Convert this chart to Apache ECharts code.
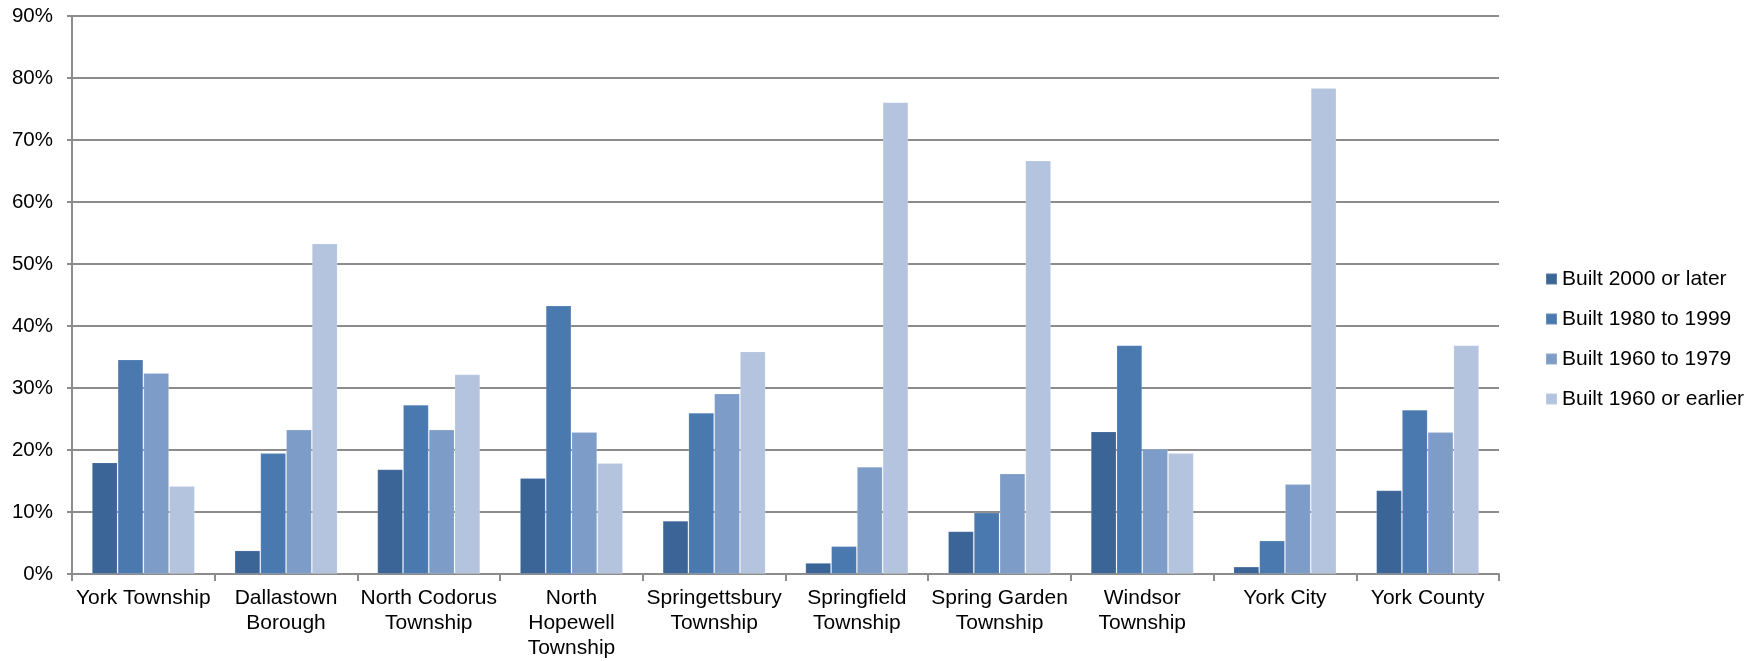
<!DOCTYPE html>
<html>
<head>
<meta charset="utf-8">
<title>Housing Units by Year Built</title>
<script src="https://cdn.jsdelivr.net/npm/echarts@6/dist/echarts.min.js"></script>
<style>
  html, body { margin: 0; padding: 0; background: #ffffff; }
  #chart { width: 1760px; height: 661px; }
</style>
</head>
<body>
<div id="chart"></div>
<script>
// Municipalities (line breaks as the axis labels wrap)
const categories = [
  'York Township',
  'Dallastown\nBorough',
  'North Codorus\nTownship',
  'North\nHopewell\nTownship',
  'Springettsbury\nTownship',
  'Springfield\nTownship',
  'Spring Garden\nTownship',
  'Windsor\nTownship',
  'York City',
  'York County'
];

const seriesNames = [
  'Built 2000 or later',
  'Built 1980 to 1999',
  'Built 1960 to 1979',
  'Built 1960 or earlier'
];

// Share of housing units (%) by year built
const built2000OrLater   = [18.0, 3.8, 16.9, 15.5, 8.6, 1.8, 6.9, 23.0, 1.2, 13.5];
const built1980To1999    = [34.6, 19.5, 27.3, 43.3, 26.0, 4.5, 9.9, 36.9, 5.4, 26.5];
const built1960To1979    = [32.4, 23.3, 23.3, 22.9, 29.1, 17.3, 16.2, 20.2, 14.5, 22.9];
const built1960OrEarlier = [14.2, 53.3, 32.2, 17.9, 35.9, 76.1, 66.7, 19.5, 78.4, 36.9];

// Y axis ticks: 0% .. 90%
const yMin = 0, yMax = 90, yStep = 10;

const colors = ['#3C6597', '#4A79B0', '#7E9CC8', '#B4C4DF'];
const seriesData = [built2000OrLater, built1980To1999, built1960To1979, built1960OrEarlier];

const font = '"Liberation Sans", Arial, sans-serif';
const axisGray = '#8C8C8C';

const chart = echarts.init(document.getElementById('chart'), null, { renderer: 'canvas' });

chart.setOption({
  animation: false,
  backgroundColor: '#ffffff',
  textStyle: { fontFamily: font, color: '#000' },
  grid: { left: 72, right: 261, top: 16, bottom: 87, containLabel: false },
  legend: {
    orient: 'vertical',
    left: 1540,
    top: 263,
    icon: 'rect',
    itemWidth: 11,
    itemHeight: 11,
    itemGap: 18,
    textStyle: { fontFamily: font, fontSize: 21, color: '#000', lineHeight: 22, padding: [0, 0, 0, 0] },
    data: seriesNames
  },
  xAxis: {
    type: 'category',
    data: categories,
    boundaryGap: true,
    axisLine: { show: true, lineStyle: { color: axisGray, width: 2 } },
    axisTick: { show: true, length: 7, lineStyle: { color: axisGray, width: 2 } },
    axisLabel: {
      interval: 0,
      margin: 12,
      fontFamily: font,
      fontSize: 21,
      lineHeight: 25,
      color: '#000'
    },
    splitLine: { show: false }
  },
  yAxis: {
    type: 'value',
    min: yMin,
    max: yMax,
    interval: yStep,
    axisLine: { show: true, lineStyle: { color: axisGray, width: 2 } },
    axisTick: { show: true, length: 5, lineStyle: { color: axisGray, width: 2 } },
    axisLabel: {
      margin: 19,
      fontFamily: font,
      fontSize: 20.5,
      color: '#000',
      formatter: '{value}%'
    },
    splitLine: { show: true, lineStyle: { color: axisGray, width: 2 } }
  },
  series: seriesNames.map((name, i) => ({
    name: name,
    type: 'bar',
    data: seriesData[i],
    barGap: '0%',
    barCategoryGap: '27.8%',
    itemStyle: {
      color: colors[i],
      borderColor: 'rgba(255,255,255,0.15)',
      borderWidth: 1
    },
    emphasis: { disabled: true }
  }))
});
</script>
</body>
</html>
